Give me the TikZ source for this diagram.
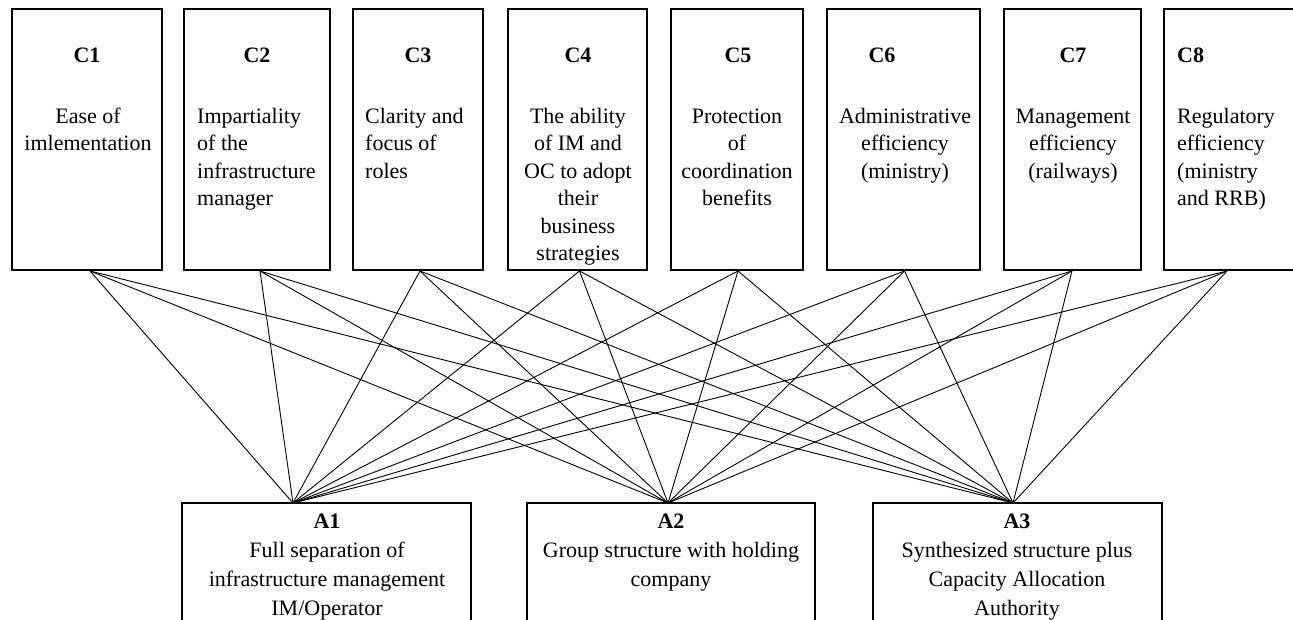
\documentclass[tikz,border=0pt]{standalone}
\usepackage{fontspec}
\setmainfont{Liberation Serif}
\usetikzlibrary{calc}
\newcommand{\fl}{\rule{0pt}{16pt}}
\begin{document}
\begin{tikzpicture}[x=1pt,y=-1pt,
  box/.style={draw, line width=1.1pt, inner sep=0pt, outer sep=0pt, anchor=north west},
  lab/.style={font=\fontsize{22}{27.5}\selectfont\bfseries, inner sep=0pt, anchor=base},
  txt/.style={font=\fontsize{22}{27.5}\selectfont, inner sep=0pt},
  txtb/.style={font=\fontsize{22}{29}\selectfont, inner sep=0pt, align=center, anchor=north},
  link/.style={line width=0.9pt}]
\useasboundingbox (0,0) rectangle (1293,620);

% criteria boxes
\node[box, minimum width=150pt, minimum height=261pt] (C1) at (12,9) {};
\node[box, minimum width=146pt, minimum height=261pt] (C2) at (184,9) {};
\node[box, minimum width=130pt, minimum height=261pt] (C3) at (353,9) {};
\node[box, minimum width=139pt, minimum height=261pt] (C4) at (508,9) {};
\node[box, minimum width=132pt, minimum height=261pt] (C5) at (671,9) {};
\node[box, minimum width=153pt, minimum height=261pt] (C6) at (827,9) {};
\node[box, minimum width=137pt, minimum height=261pt] (C7) at (1004,9) {};
\node[box, minimum width=140pt, minimum height=261pt] (C8) at (1164,9) {};

% labels
\node[lab] (C1l) at (87,63) {C1};
\node[lab] (C2l) at (257,63) {C2};
\node[lab] (C3l) at (418,63) {C3};
\node[lab] (C4l) at (578,63) {C4};
\node[lab] (C5l) at (738,63) {C5};
\node[lab] (C6l) at (882,63) {C6};
\node[lab] (C7l) at (1073,63) {C7};
\node[lab, anchor=base west] (C8l) at (1177,63) {C8};

% texts
\node[txt, align=center, anchor=north] (C1t) at (88,107) {\fl Ease of\\imlementation};
\node[txt, align=left, anchor=north west] (C2t) at (197,107) {\fl Impartiality\\of the\\infrastructure\\manager};
\node[txt, align=left, anchor=north west] (C3t) at (365,107) {\fl Clarity and\\focus of\\roles};
\node[txt, align=center, anchor=north] (C4t) at (578,107) {\fl The ability\\of IM and\\OC to adopt\\their\\business\\strategies};
\node[txt, align=center, anchor=north] (C5t) at (737,107) {\fl Protection\\of\\coordination\\benefits};
\node[txt, align=center, anchor=north] (C6t) at (905,107) {\fl Administrative\\efficiency\\(ministry)};
\node[txt, align=center, anchor=north] (C7t) at (1073,107) {\fl Management\\efficiency\\(railways)};
\node[txt, align=left, anchor=north west] (C8t) at (1177,107) {\fl Regulatory\\efficiency\\(ministry\\and RRB)};

% alternative boxes
\node[box, minimum width=289pt, minimum height=125pt] (A1) at (182,503) {};
\node[box, minimum width=288pt, minimum height=125pt] (A2) at (527,503) {};
\node[box, minimum width=289pt, minimum height=125pt] (A3) at (873,503) {};

\node[txtb] (A1t) at (327,512) {\fl\textbf{A1}\\Full separation of\\infrastructure management\\IM/Operator};
\node[txtb] (A2t) at (671,512) {\fl\textbf{A2}\\Group structure with holding\\company};
\node[txtb] (A3t) at (1017,512) {\fl\textbf{A3}\\Synthesized structure plus\\Capacity Allocation\\Authority};

% connection points
\coordinate (C1o) at ($(C1.south)+(3,1)$);
\coordinate (C2o) at ($(C2.south)+(3,1)$);
\coordinate (C3o) at ($(C3.south)+(2,1)$);
\coordinate (C4o) at ($(C4.south)+(2,1)$);
\coordinate (C5o) at ($(C5.south)+(1,1)$);
\coordinate (C6o) at ($(C6.south)+(1,1)$);
\coordinate (C7o) at ($(C7.south)+(-0.5,1)$);
\coordinate (C8o) at ($(C8.south)+(-7,1)$);
\coordinate (A1in) at ($(A1.north west)+(111,0)$);
\coordinate (A2in) at ($(A2.north west)+(141,0)$);
\coordinate (A3in) at ($(A3.north west)+(140,0)$);

\foreach \i in {1,...,8}{
  \foreach \a in {A1in,A2in,A3in}{
    \draw[link] (C\i o) -- (\a);
  }
}
\end{tikzpicture}
\end{document}
